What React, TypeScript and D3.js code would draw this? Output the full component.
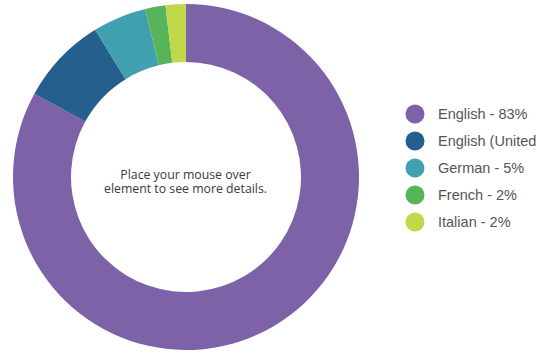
import React from "react";
import * as d3 from "d3";

const categories = ["English", "English (United Kingdom)", "German", "French", "Italian"];
const values = [83, 8.2, 5, 1.9, 1.9];
const legendLabels = ["English - 83%", "English (United Kingdom) - 8%", "German - 5%", "French - 2%", "Italian - 2%"];
const colors = ["#7d62a8", "#245f8e", "#41a0b0", "#58b45b", "#c0d84a"];
const centerLines = ["Place your mouse over", "element to see more details."];

export default function App() {
  const W = 537, H = 353;
  const cx = 186, cy = 177;
  const outerR = 173, innerR = 115;
  const pie = d3.pie<number>().sort(null).value((d) => d);
  const arcs = pie(values);
  const arc = d3.arc<d3.PieArcDatum<number>>().innerRadius(innerR).outerRadius(outerR);
  const legendY = d3.scalePoint<string>().domain(categories).range([114, 222]);
  return (
    <div style={{ position: "fixed", left: 0, top: 0 }}>
      <svg width={W} height={H} style={{ display: "block", background: "#fff" }}>
        <g transform={`translate(${cx},${cy})`}>
          {arcs.map((a, i) => (
            <path key={i} d={arc(a) || ""} fill={colors[i]} />
          ))}
          <text textAnchor="middle" fontFamily="'Open Sans', sans-serif" fontSize={12.3} fill="#3a3a3a">
            {centerLines.map((t, i) => (
              <tspan key={i} x={-0.5} y={1.5 + i * 14.5}>
                {t}
              </tspan>
            ))}
          </text>
        </g>
        {categories.map((c, i) => (
          <g key={c} transform={`translate(0,${legendY(c)})`}>
            <circle cx={415} cy={0} r={9.5} fill={colors[i]} />
            <text x={438} y={5} fontFamily="'Liberation Sans', Arial, sans-serif" fontSize={14.5} fill="#555">
              {legendLabels[i]}
            </text>
          </g>
        ))}
      </svg>
    </div>
  );
}
